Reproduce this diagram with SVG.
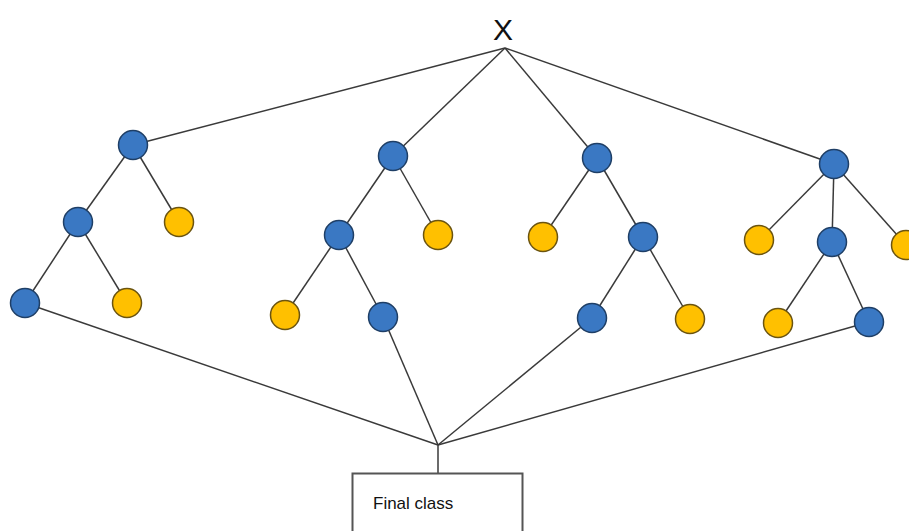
<svg xmlns="http://www.w3.org/2000/svg" width="909" height="531" viewBox="0 0 909 531">
<style>
.e{stroke:#3a3a3a;stroke-width:1.5;fill:none}
.b{fill:#3a78c3;stroke:#1f3f66;stroke-width:1.5}
.y{fill:#ffc000;stroke:#6b5410;stroke-width:1.5}
.t{font-family:"Liberation Sans",Arial,sans-serif;fill:#111}
</style>
<rect width="909" height="531" fill="#fff"/>
<g id="connectors">
<line class="e" x1="505" y1="48" x2="133" y2="145"/>
<line class="e" x1="505" y1="48" x2="393" y2="156"/>
<line class="e" x1="505" y1="48" x2="597" y2="158"/>
<line class="e" x1="505" y1="48" x2="834" y2="164"/>
<line class="e" x1="133" y1="145" x2="78" y2="222"/>
<line class="e" x1="133" y1="145" x2="179" y2="222"/>
<line class="e" x1="78" y1="222" x2="25" y2="303"/>
<line class="e" x1="78" y1="222" x2="127" y2="303"/>
<line class="e" x1="393" y1="156" x2="339" y2="235"/>
<line class="e" x1="393" y1="156" x2="438" y2="235"/>
<line class="e" x1="339" y1="235" x2="285" y2="315"/>
<line class="e" x1="339" y1="235" x2="383" y2="317"/>
<line class="e" x1="597" y1="158" x2="543" y2="237"/>
<line class="e" x1="597" y1="158" x2="643" y2="237"/>
<line class="e" x1="643" y1="237" x2="592" y2="318"/>
<line class="e" x1="643" y1="237" x2="690" y2="319"/>
<line class="e" x1="834" y1="164" x2="759" y2="240"/>
<line class="e" x1="834" y1="164" x2="832" y2="242"/>
<line class="e" x1="834" y1="164" x2="906" y2="245"/>
<line class="e" x1="832" y1="242" x2="778" y2="323"/>
<line class="e" x1="832" y1="242" x2="869" y2="322"/>
<line class="e" x1="25" y1="303" x2="438" y2="445"/>
<line class="e" x1="383" y1="317" x2="438" y2="445"/>
<line class="e" x1="592" y1="318" x2="438" y2="445"/>
<line class="e" x1="869" y1="322" x2="438" y2="445"/>
<line class="e" x1="438" y1="445" x2="438" y2="473"/>
</g>
<g id="X"><text class="t" x="503" y="40" font-size="30" text-anchor="middle">X</text></g>
<g id="tree1">
<circle class="b" cx="133" cy="145" r="14.5"/>
<circle class="b" cx="78" cy="222" r="14.5"/>
<circle class="y" cx="179" cy="222" r="14.5"/>
<circle class="b" cx="25" cy="303" r="14.5"/>
<circle class="y" cx="127" cy="303" r="14.5"/>
</g>
<g id="tree2">
<circle class="b" cx="393" cy="156" r="14.5"/>
<circle class="b" cx="339" cy="235" r="14.5"/>
<circle class="y" cx="438" cy="235" r="14.5"/>
<circle class="y" cx="285" cy="315" r="14.5"/>
<circle class="b" cx="383" cy="317" r="14.5"/>
</g>
<g id="tree3">
<circle class="b" cx="597" cy="158" r="14.5"/>
<circle class="y" cx="543" cy="237" r="14.5"/>
<circle class="b" cx="643" cy="237" r="14.5"/>
<circle class="b" cx="592" cy="318" r="14.5"/>
<circle class="y" cx="690" cy="319" r="14.5"/>
</g>
<g id="tree4">
<circle class="b" cx="834" cy="164" r="14.5"/>
<circle class="y" cx="759" cy="240" r="14.5"/>
<circle class="b" cx="832" cy="242" r="14.5"/>
<circle class="y" cx="906" cy="245" r="14.5"/>
<circle class="y" cx="778" cy="323" r="14.5"/>
<circle class="b" cx="869" cy="322" r="14.5"/>
</g>
<g id="final">
<rect x="352.5" y="473.5" width="170" height="70" fill="#fff" stroke="#555" stroke-width="2"/>
<text class="t" x="373" y="509" font-size="17">Final class</text>
</g>
</svg>
